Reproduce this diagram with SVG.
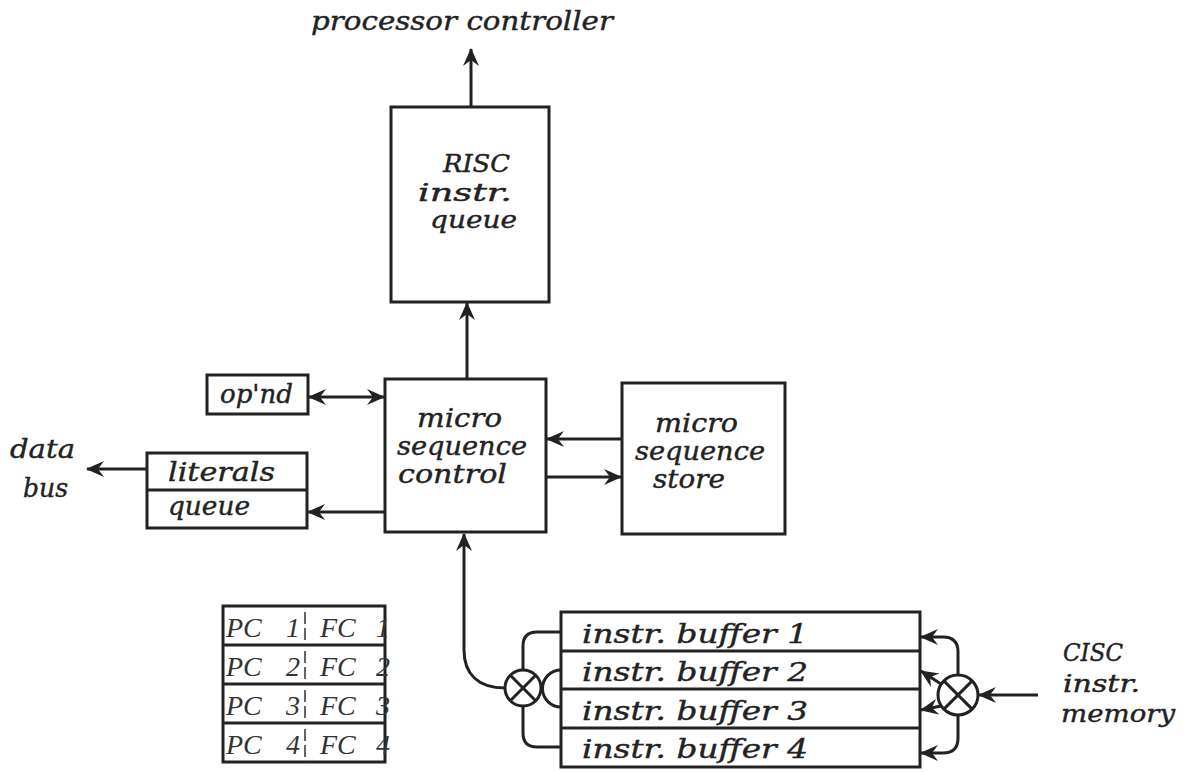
<svg xmlns="http://www.w3.org/2000/svg" width="1183" height="772" viewBox="0 0 1183 772">
<defs>
<marker id="arr" markerUnits="userSpaceOnUse" markerWidth="18" markerHeight="16" viewBox="0 0 18 16" refX="17" refY="8" orient="auto-start-reverse">
<path d="M0,0 L18,8 L0,16 L6,8 z" fill="#222"/>
</marker>
</defs>
<style>
.box{fill:none;stroke:#222;stroke-width:3}
.ln{fill:none;stroke:#222;stroke-width:3}
.t{font-family:"DejaVu Serif",serif;font-style:italic;font-size:26px;fill:#222;stroke:#222;stroke-width:0.4}
.s{font-size:24px}
.pc{font-family:"Liberation Serif",serif;font-style:italic;font-size:28px;fill:#333}
.tick{stroke:#333;stroke-width:1.5;stroke-dasharray:12 4}
</style>
<rect width="1183" height="772" fill="#fff"/>
<g id="labels">
<text class="t" x="311" y="30" textLength="302" lengthAdjust="spacingAndGlyphs">processor controller</text>
<text class="t" x="10" y="458" textLength="65" lengthAdjust="spacingAndGlyphs">data</text>
<text class="t" x="23" y="497" textLength="45" lengthAdjust="spacingAndGlyphs">bus</text>
<text class="t s" x="1063" y="661" textLength="60" lengthAdjust="spacingAndGlyphs">CISC</text>
<text class="t s" x="1063" y="692" textLength="77" lengthAdjust="spacingAndGlyphs">instr.</text>
<text class="t s" x="1061" y="722" textLength="114" lengthAdjust="spacingAndGlyphs">memory</text>
</g>
<g id="risc">
<rect class="box" x="391" y="107" width="158" height="195"/>
<text class="t s" x="443" y="172" textLength="67" lengthAdjust="spacingAndGlyphs">RISC</text>
<text class="t s" x="418" y="201" textLength="94" lengthAdjust="spacingAndGlyphs">instr.</text>
<text class="t s" x="430" y="228" textLength="87" lengthAdjust="spacingAndGlyphs">queue</text>
</g>
<g id="opnd">
<rect class="box" x="207" y="375" width="101" height="39"/>
<text class="t" x="220" y="403" textLength="73" lengthAdjust="spacingAndGlyphs">op'nd</text>
</g>
<g id="literals">
<rect class="box" x="147" y="453" width="160" height="75"/>
<line class="ln" x1="147" y1="490" x2="307" y2="490"/>
<text class="t" x="168" y="481" textLength="107" lengthAdjust="spacingAndGlyphs">literals</text>
<text class="t" x="168" y="515" textLength="82" lengthAdjust="spacingAndGlyphs">queue</text>
</g>
<g id="control">
<rect class="box" x="385" y="379" width="161" height="153"/>
<text class="t" x="417" y="427" textLength="85" lengthAdjust="spacingAndGlyphs">micro</text>
<text class="t" x="397" y="455" textLength="130" lengthAdjust="spacingAndGlyphs">sequence</text>
<text class="t" x="398" y="483" textLength="109" lengthAdjust="spacingAndGlyphs">control</text>
</g>
<g id="store">
<rect class="box" x="622" y="383" width="163" height="151"/>
<text class="t" x="655" y="432" textLength="83" lengthAdjust="spacingAndGlyphs">micro</text>
<text class="t" x="635" y="460" textLength="130" lengthAdjust="spacingAndGlyphs">sequence</text>
<text class="t" x="653" y="488" textLength="72" lengthAdjust="spacingAndGlyphs">store</text>
</g>
<g id="pctable">
<rect class="box" x="223" y="606" width="162" height="156"/>
<line class="ln" x1="223" y1="645" x2="385" y2="645"/>
<line class="ln" x1="223" y1="684" x2="385" y2="684"/>
<line class="ln" x1="223" y1="723" x2="385" y2="723"/>
<line class="tick" x1="305" y1="612" x2="305" y2="645"/>
<line class="tick" x1="305" y1="651" x2="305" y2="684"/>
<line class="tick" x1="305" y1="690" x2="305" y2="723"/>
<line class="tick" x1="305" y1="729" x2="305" y2="762"/>
<text class="pc" x="226" y="637">PC</text><text class="pc" x="286" y="637">1</text><text class="pc" x="320" y="637">FC</text><text class="pc" x="376" y="637">1</text>
<text class="pc" x="226" y="676">PC</text><text class="pc" x="286" y="676">2</text><text class="pc" x="320" y="676">FC</text><text class="pc" x="376" y="676">2</text>
<text class="pc" x="226" y="715">PC</text><text class="pc" x="286" y="715">3</text><text class="pc" x="320" y="715">FC</text><text class="pc" x="376" y="715">3</text>
<text class="pc" x="226" y="754">PC</text><text class="pc" x="286" y="754">4</text><text class="pc" x="320" y="754">FC</text><text class="pc" x="376" y="754">4</text>
</g>
<g id="buffers">
<rect class="box" x="561" y="612" width="359" height="155"/>
<line class="ln" x1="561" y1="651" x2="920" y2="651"/>
<line class="ln" x1="561" y1="689" x2="920" y2="689"/>
<line class="ln" x1="561" y1="728" x2="920" y2="728"/>
<text class="t" x="582" y="643" textLength="226" lengthAdjust="spacingAndGlyphs">instr. buffer 1</text>
<text class="t" x="582" y="681" textLength="226" lengthAdjust="spacingAndGlyphs">instr. buffer 2</text>
<text class="t" x="582" y="720" textLength="226" lengthAdjust="spacingAndGlyphs">instr. buffer 3</text>
<text class="t" x="582" y="758" textLength="226" lengthAdjust="spacingAndGlyphs">instr. buffer 4</text>
</g>
<g id="mux-left">
<circle class="ln" cx="523" cy="688" r="18"/>
<line class="ln" x1="510.3" y1="675.3" x2="535.7" y2="700.7"/>
<line class="ln" x1="535.7" y1="675.3" x2="510.3" y2="700.7"/>
</g>
<g id="mux-right">
<circle class="ln" cx="958" cy="695" r="20"/>
<line class="ln" x1="943.9" y1="680.9" x2="972.1" y2="709.1"/>
<line class="ln" x1="972.1" y1="680.9" x2="943.9" y2="709.1"/>
</g>
<g id="connectors">
<line class="ln" x1="471" y1="107" x2="471" y2="49" marker-end="url(#arr)"/>
<line class="ln" x1="467" y1="379" x2="467" y2="303" marker-end="url(#arr)"/>
<line class="ln" x1="309" y1="397" x2="384" y2="397" marker-start="url(#arr)" marker-end="url(#arr)"/>
<line class="ln" x1="385" y1="512" x2="308" y2="512" marker-end="url(#arr)"/>
<line class="ln" x1="147" y1="469" x2="87" y2="469" marker-end="url(#arr)"/>
<line class="ln" x1="622" y1="439" x2="547" y2="439" marker-end="url(#arr)"/>
<line class="ln" x1="546" y1="477" x2="621" y2="477" marker-end="url(#arr)"/>
<path class="ln" d="M505,688 C478,688 464,674 464,650 L464,534" marker-end="url(#arr)"/>
<path class="ln" d="M523,670 L523,646 Q523,632 537,632 L561,632"/>
<path class="ln" d="M523,706 L523,733 Q523,747 537,747 L561,747"/>
<path class="ln" d="M561,670 A18.5,18.5 0 0 0 561,707"/>
<line class="ln" x1="1038" y1="695" x2="979" y2="695" marker-end="url(#arr)"/>
<path class="ln" d="M958,675 L958,652 Q958,637 943,637 L921,637" marker-end="url(#arr)"/>
<path class="ln" d="M958,715 L958,738 Q958,753 943,753 L921,753" marker-end="url(#arr)"/>
<line class="ln" x1="941" y1="684" x2="921" y2="671" marker-end="url(#arr)"/>
<line class="ln" x1="941" y1="706" x2="921" y2="710" marker-end="url(#arr)"/>
</g>
</svg>
